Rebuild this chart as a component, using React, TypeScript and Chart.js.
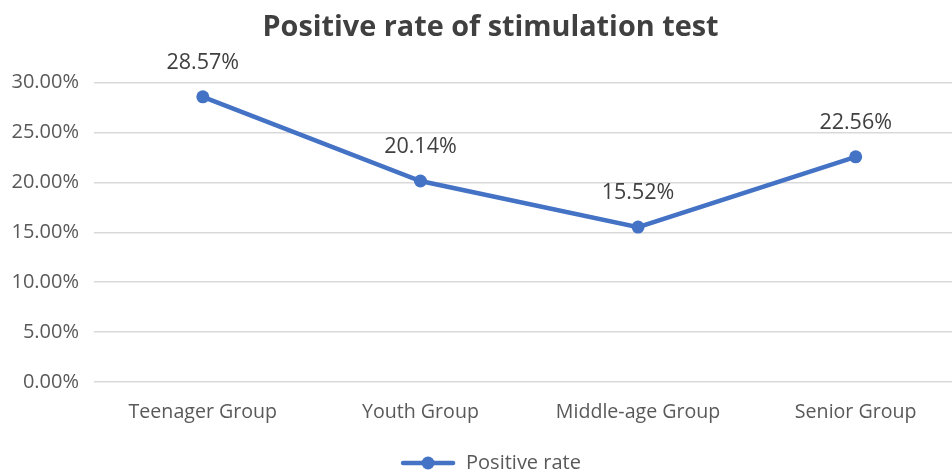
import React, { useEffect, useRef } from "react";
import { Chart, registerables } from "chart.js";

Chart.register(...registerables);

const categories = ["Teenager Group", "Youth Group", "Middle-age Group", "Senior Group"];
const positiveRate = [28.57, 20.14, 15.52, 22.56];
const seriesName = "Positive rate";
const chartTitle = "Positive rate of stimulation test";

const LINE_COLOR = "#4472C4";
const FONT = "'Open Sans', 'Noto Sans', sans-serif";

// Legend marker: a short line with a dot in the middle.
function makeLegendMarker(): HTMLCanvasElement {
  const c = document.createElement("canvas");
  c.width = 56;
  c.height = 16;
  const ctx = c.getContext("2d")!;
  ctx.strokeStyle = LINE_COLOR;
  ctx.lineWidth = 4.5;
  ctx.lineCap = "round";
  ctx.beginPath();
  ctx.moveTo(3, 8);
  ctx.lineTo(53, 8);
  ctx.stroke();
  ctx.fillStyle = LINE_COLOR;
  ctx.beginPath();
  ctx.arc(28, 8, 6.5, 0, Math.PI * 2);
  ctx.fill();
  return c;
}

// Draws the value above each point.
const valueLabels = {
  id: "valueLabels",
  afterDatasetsDraw(chart: any) {
    const { ctx } = chart;
    const meta = chart.getDatasetMeta(0);
    const data = chart.data.datasets[0].data as number[];
    ctx.save();
    ctx.font = `21.5px ${FONT}`;
    ctx.fillStyle = "#404040";
    ctx.textAlign = "center";
    ctx.textBaseline = "middle";
    meta.data.forEach((pt: any, i: number) => {
      ctx.fillText(data[i].toFixed(2) + "%", pt.x, pt.y - 34);
    });
    ctx.restore();
  },
};

export default function App() {
  const canvasRef = useRef<HTMLCanvasElement | null>(null);

  useEffect(() => {
    document.body.style.margin = "0";
    const marker = makeLegendMarker();
    const chart = new Chart(canvasRef.current!, {
      type: "line",
      data: {
        labels: categories,
        datasets: [
          {
            label: seriesName,
            data: positiveRate,
            borderColor: LINE_COLOR,
            backgroundColor: LINE_COLOR,
            borderWidth: 4.5,
            pointRadius: 6.5,
            pointHoverRadius: 6.5,
            pointBorderWidth: 0,
            tension: 0,
          },
        ],
      },
      options: {
        responsive: false,
        animation: false,
        layout: { padding: { left: 10, right: 0, top: 0, bottom: 0 } },
        plugins: {
          title: {
            display: true,
            text: chartTitle,
            color: "#404040",
            font: { family: FONT, size: 28.8, weight: "bold" },
            padding: { top: 11, bottom: 37 },
          },
          legend: {
            position: "bottom",
            labels: {
              color: "#595959",
              font: { family: FONT, size: 20 },
              usePointStyle: true,
              pointStyleWidth: 56,
              padding: 0,
              generateLabels: () => [
                {
                  text: seriesName,
                  pointStyle: marker,
                  fillStyle: LINE_COLOR,
                  strokeStyle: LINE_COLOR,
                  lineWidth: 0,
                  hidden: false,
                  datasetIndex: 0,
                  fontColor: "#595959",
                },
              ],
            },
          },
          tooltip: { enabled: false },
        },
        scales: {
          x: {
            offset: true,
            afterFit: (scale: any) => {
              scale.height = 71;
            },
            grid: { display: false, drawTicks: false, offset: true },
            border: { display: false },
            ticks: {
              color: "#595959",
              font: { family: FONT, size: 19.6 },
              padding: 19,
              maxRotation: 0,
            },
          },
          y: {
            min: 0,
            max: 30,
            afterFit: (scale: any) => {
              scale.width = 84;
            },
            grid: { color: "#d9d9d9", lineWidth: 1.5, drawTicks: false },
            border: { display: false },
            ticks: {
              stepSize: 5,
              color: "#595959",
              font: { family: FONT, size: 20 },
              padding: 15,
              callback: (v: any) => Number(v).toFixed(2) + "%",
            },
          },
        },
      },
      plugins: [valueLabels],
    });
    return () => chart.destroy();
  }, []);

  return (
    <div
      style={{
        position: "absolute",
        left: 0,
        top: 0,
        width: 952,
        height: 473,
        overflow: "hidden",
        background: "#fff",
      }}
    >
      <canvas ref={canvasRef} width={971} height={483} />
    </div>
  );
}
